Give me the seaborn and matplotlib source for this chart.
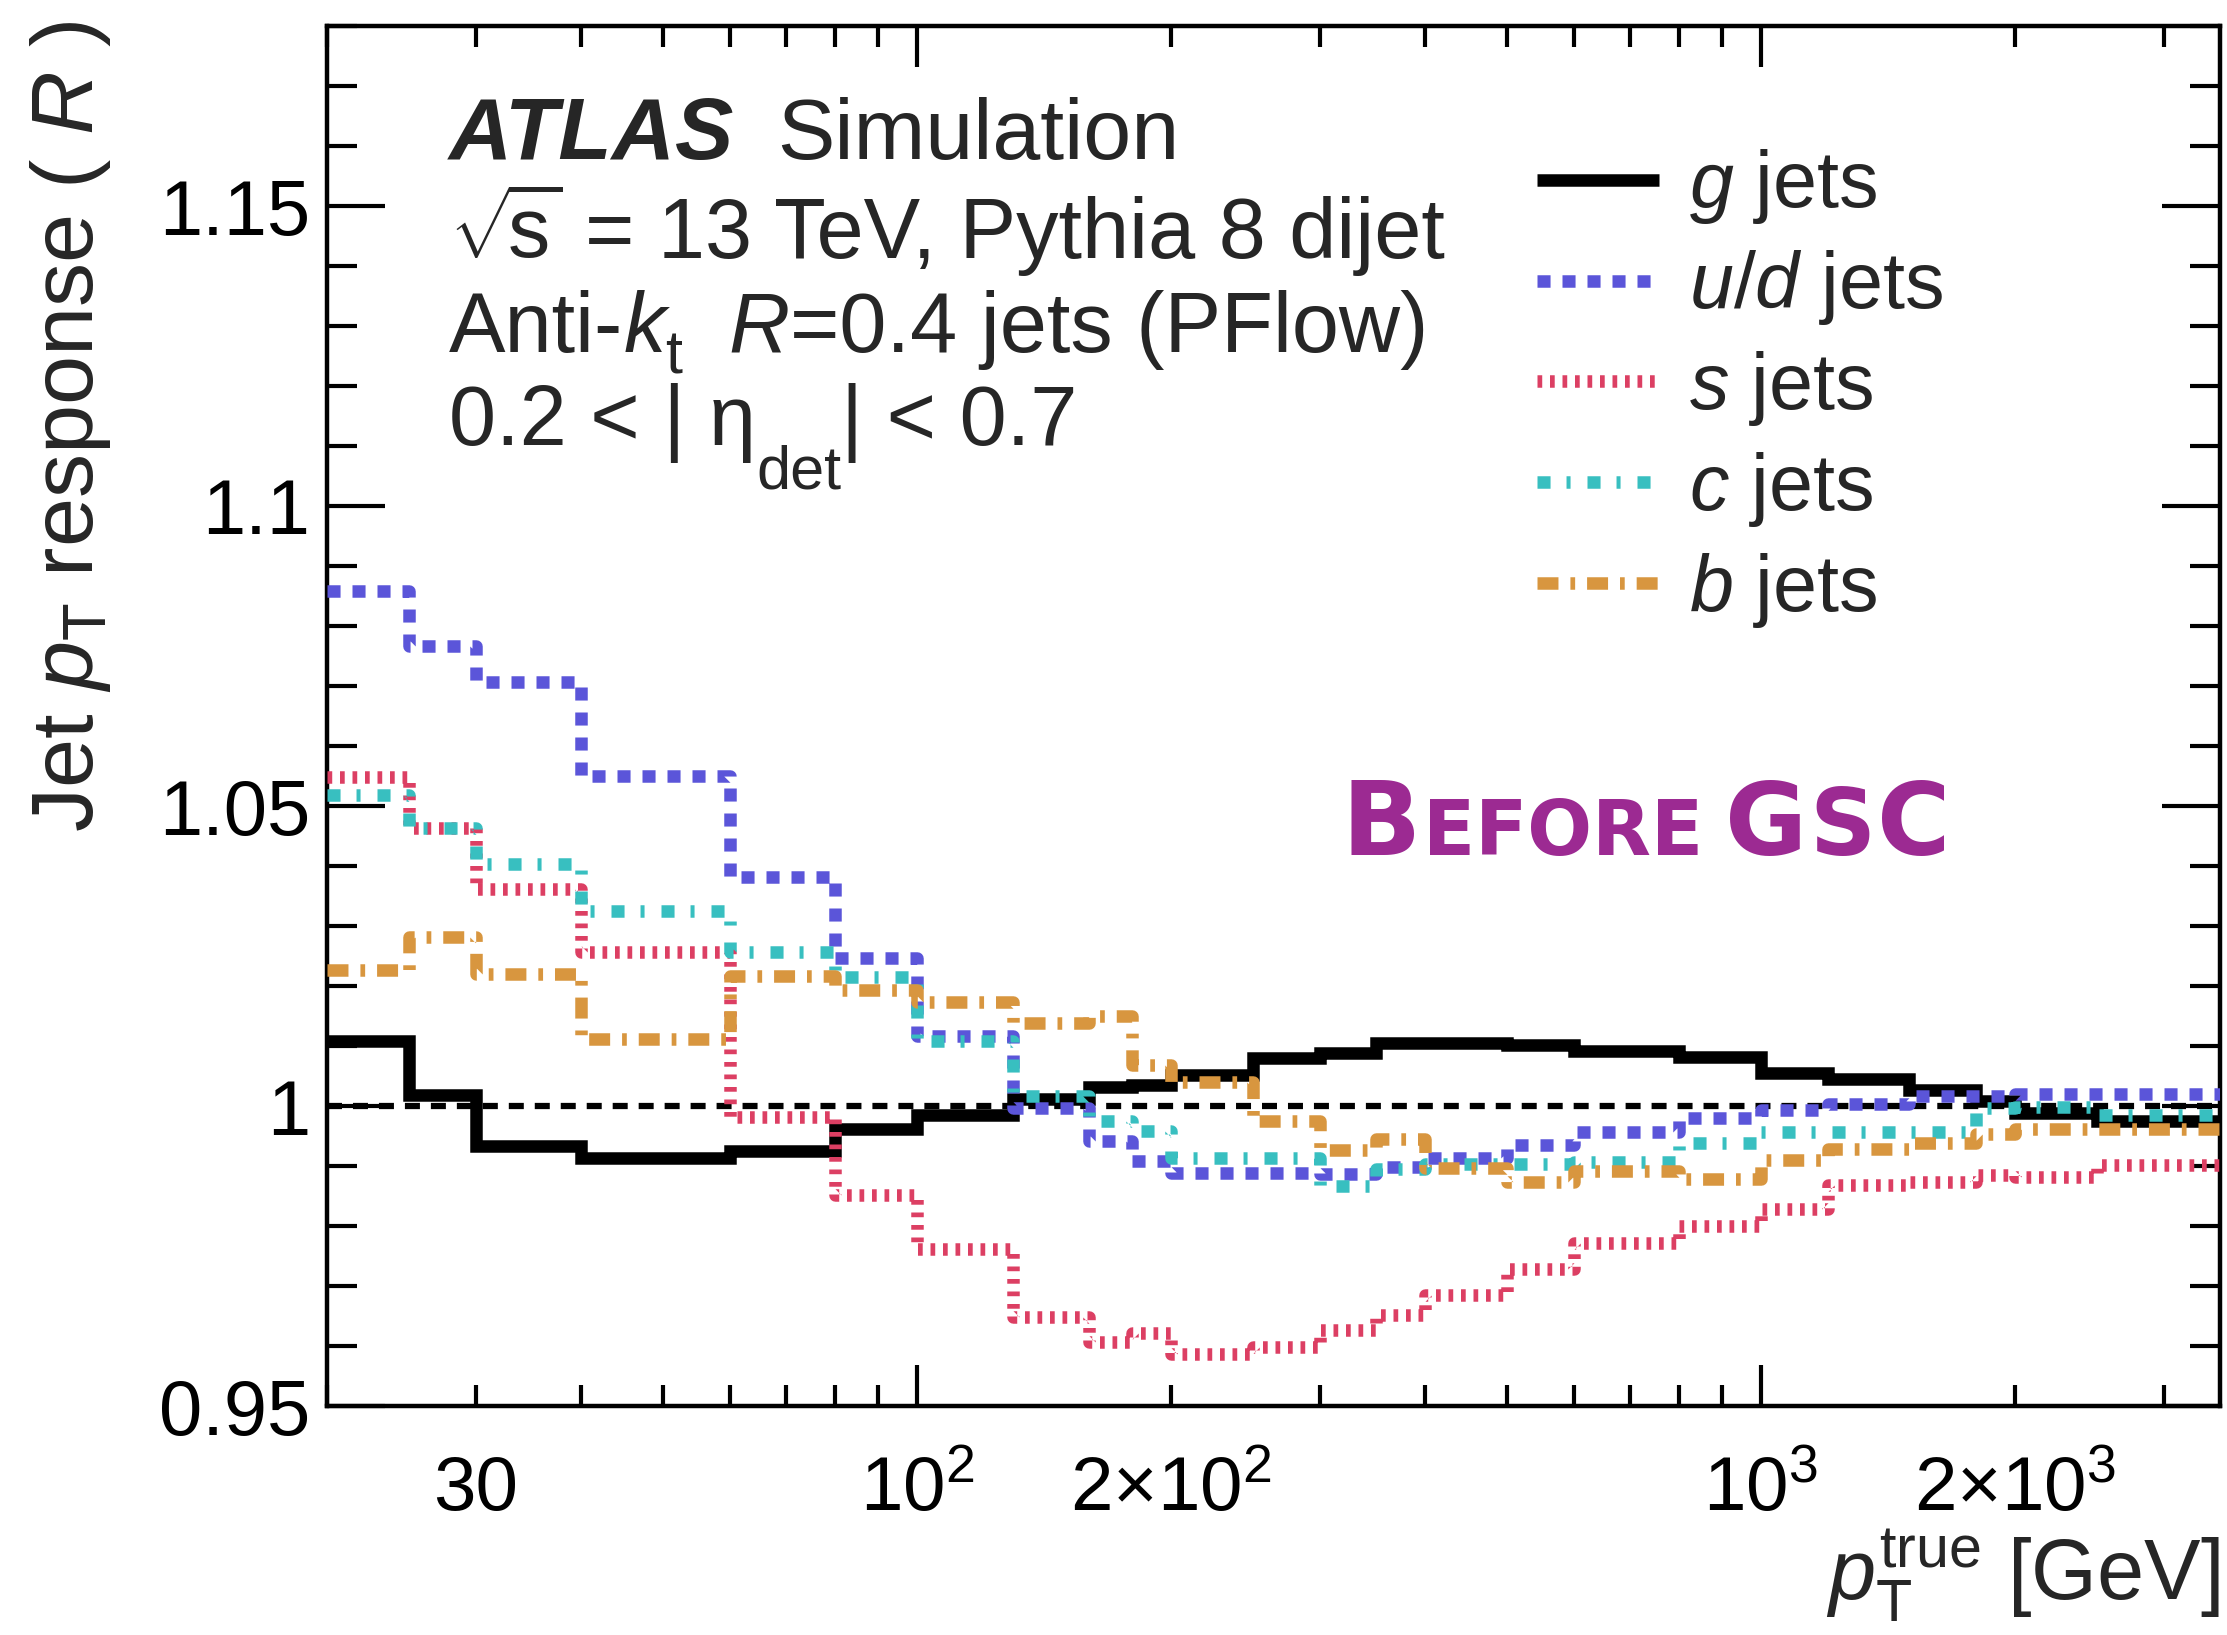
import numpy as np
import pandas as pd
import matplotlib
matplotlib.use("Agg")
import matplotlib.pyplot as plt
import seaborn as sns
from matplotlib.ticker import FixedLocator, FuncFormatter, MultipleLocator

# ---------------- data ----------------
pt_edges = [20, 25, 30, 40, 60, 80, 100, 130, 160, 180, 200, 250, 300, 350,
            400, 500, 600, 800, 1000, 1200, 1500, 1800, 2000, 2500, 3000, 3500]

g_jets = [1.0109, 1.0018, 0.9933, 0.9914, 0.9925, 0.9961, 0.9985, 1.0012,
          1.0031, 1.0035, 1.0052, 1.0080, 1.0088, 1.0105, 1.0105, 1.0102,
          1.0092, 1.0082, 1.0055, 1.0045, 1.0026, 1.0008, 0.9989, 0.9975, 0.9975]
ud_jets = [1.0858, 1.0767, 1.0706, 1.0550, 1.0381, 1.0246, 1.0117, 0.9996,
           0.9942, 0.9908, 0.9889, 0.9889, 0.9887, 0.9898, 0.9913, 0.9935,
           0.9956, 0.9980, 0.9993, 1.0003, 1.0016, 1.0016, 1.0020, 1.0020, 1.0020]
s_jets = [1.0548, 1.0464, 1.0361, 1.0256, 0.9982, 0.9852, 0.9762, 0.9648,
          0.9606, 0.9622, 0.9586, 0.9598, 0.9627, 0.9652, 0.9685, 0.9729,
          0.9771, 0.9800, 0.9828, 0.9868, 0.9874, 0.9885, 0.9882, 0.9902, 0.9902]
c_jets = [1.0519, 1.0464, 1.0403, 1.0325, 1.0257, 1.0215, 1.0109, 1.0017,
          0.9975, 0.9959, 0.9914, 0.9914, 0.9867, 0.9895, 0.9904, 0.9904,
          0.9907, 0.9938, 0.9956, 0.9956, 0.9956, 0.9996, 0.9999, 0.9985, 0.9985]
b_jets = [1.0227, 1.0281, 1.0220, 1.0112, 1.0217, 1.0194, 1.0173, 1.0139,
          1.0150, 1.0068, 1.0040, 0.9975, 0.9927, 0.9945, 0.9896, 0.9874,
          0.9891, 0.9878, 0.9910, 0.9928, 0.9939, 0.9954, 0.9961, 0.9961, 0.9961]

series_labels = [r"$g$ jets", r"$u/d$ jets", r"$s$ jets", r"$c$ jets", r"$b$ jets"]
series_values = [g_jets, ud_jets, s_jets, c_jets, b_jets]

x_tick_text = {30: "30", 100: r"$10^{2}$", 200: r"$2{\times}10^{2}$",
               1000: r"$10^{3}$", 2000: r"$2{\times}10^{3}$"}

# ---------------- styling ----------------
sns.set_theme(style="ticks")
plt.rcParams["font.family"] = ["Liberation Sans", "DejaVu Sans"]
plt.rcParams["mathtext.fontset"] = "custom"
plt.rcParams["mathtext.rm"] = "Liberation Sans"
plt.rcParams["mathtext.it"] = "Liberation Sans:italic"
plt.rcParams["mathtext.bf"] = "Liberation Sans:bold"
plt.rcParams["lines.scale_dashes"] = False
plt.rcParams["axes.linewidth"] = 3.2

colors = ["#000000", "#5B55D9", "#DC3F63", "#38BFC0", "#D8963F"]
styles = ["-",
          (0, (9.4, 8.6)),
          (0, (3.4, 5.6)),
          (0, (9.4, 11.5, 2.9, 12.2)),
          (0, (15.1, 8.6, 3.4, 8.6))]
LW = 9.0

W, H = 2227, 1635
fig = plt.figure(figsize=(W / 100, H / 100), dpi=100)
L, R, T, B = 327, 2220, 26, 1406
AXH = B - T
ax = fig.add_axes([L / W, 1 - B / H, (R - L) / W, (B - T) / H])

ax.axhline(1.0, color="black", lw=4.5, linestyle=(0, (10.8, 7.9)), zorder=1.5)

for i, (lab, vals, col, ls) in enumerate(zip(series_labels, series_values, colors, styles)):
    df = pd.DataFrame({"pt": pt_edges, "R": list(vals) + [vals[-1]]})
    sns.lineplot(data=df, x="pt", y="R", ax=ax, color=col, linestyle=ls,
                 linewidth=LW, drawstyle="steps-post", estimator=None,
                 sort=False, label=lab, zorder=2 + i,
                 solid_joinstyle="miter", solid_capstyle="butt",
                 dash_capstyle="butt")

ax.set_xscale("log")
ax.set_xlim(20, 3500)
ax.set_ylim(0.95, 1.18)

ax.xaxis.set_major_locator(FixedLocator([100, 1000]))
minor_x = list(range(20, 100, 10)) + list(range(200, 1000, 100)) + [2000, 3000]
ax.xaxis.set_minor_locator(FixedLocator(minor_x))
fmt = FuncFormatter(lambda v, p: x_tick_text.get(int(round(v)), ""))
ax.xaxis.set_major_formatter(fmt)
ax.xaxis.set_minor_formatter(fmt)

ax.yaxis.set_major_locator(MultipleLocator(0.05))
ax.yaxis.set_minor_locator(MultipleLocator(0.01))
ax.yaxis.set_major_formatter(FuncFormatter(lambda v, p: "%g" % round(v, 3)))

ax.tick_params(axis="both", which="both", direction="in", top=True, right=True,
               width=3.0, colors="black")
ax.tick_params(axis="y", which="major", length=42, labelsize=56, pad=12)
ax.tick_params(axis="y", which="minor", length=21.6)
ax.tick_params(axis="x", which="major", length=29.5, labelsize=55, pad=75)
ax.tick_params(axis="x", which="minor", length=15, labelsize=55, pad=75)
for tk in ax.xaxis.get_major_ticks() + ax.xaxis.get_minor_ticks():
    tk.label1.set_va("baseline")

for sp in ax.spines.values():
    sp.set_visible(True)
    sp.set_color("black")
    sp.set_linewidth(3.2)

ax.set_ylabel(r"Jet $p_{\mathrm{T}}$ response ( $R$ )", fontsize=63.5, loc="top")
ax.yaxis.set_label_coords(-0.113, 1.004)
ax.set_xlabel(r"$p_{\mathrm{T}}^{\mathrm{true}}$ [GeV]", fontsize=61, loc="right")
ax.xaxis.set_label_coords(1.0, -0.088)

handles, labels = ax.get_legend_handles_labels()
ax.legend(handles, labels, loc="upper left", bbox_to_anchor=(0.639, 0.912),
          frameon=False, fontsize=57, handlelength=1.54, handletextpad=0.39,
          labelspacing=0.275, borderpad=0, borderaxespad=0)

fig.canvas.draw()
renderer = fig.canvas.get_renderer()
inv = ax.transAxes.inverted()


def chain(x0, y0, pieces):
    """pieces: (text, fontsize, drop_px, gap_px_after, kwargs)"""
    x = x0
    for txt, fs, drop, gap, kw in pieces:
        t = ax.text(x, y0 - drop / AXH, txt, fontsize=fs, transform=ax.transAxes,
                    va="baseline", ha="left", **kw)
        bb = t.get_window_extent(renderer)
        x = inv.transform((bb.x1 + gap, bb.y0))[0]


tx = 0.0644
ax.text(tx, 0.9036, "ATLAS", fontsize=63, fontweight="bold", fontstyle="italic",
        transform=ax.transAxes, va="baseline")
ax.text(0.2377, 0.9036, "Simulation", fontsize=62, transform=ax.transAxes, va="baseline")
chain(tx, 0.8319, [(r"$\sqrt{\!\mathrm{s}}$", 61, 0, 22, {}),
                   ("= 13 TeV, Pythia 8 dijet", 61, 0, 0, {})])
chain(tx, 0.7638, [("Anti-", 61, 0, 0, {}),
                   ("k", 61, 0, 0, {"fontstyle": "italic"}),
                   ("t", 44, 22, 46, {}),
                   ("R", 61, 0, 0, {"fontstyle": "italic"}),
                   ("=0.4 jets (PFlow)", 61, 0, 0, {})])
chain(tx, 0.6964, [("0.2 < | \u03b7", 61, 0, 0, {}),
                   ("det", 44, 44, 0, {}),
                   ("| < 0.7", 61, 0, 0, {})])

# "Before GSC" annotation
purple = "#9C2A92"
bold = {"fontweight": "bold", "color": purple, "family": "DejaVu Sans"}
chain(0.536, 0.399, [("B", 75, 0, 2, bold), ("EFORE", 55, 0, 22, bold),
                     ("G", 72, 0, 2, bold), ("S", 66, 0, 2, bold), ("C", 72, 0, 0, bold)])

fig.savefig("out.png", dpi=100)
